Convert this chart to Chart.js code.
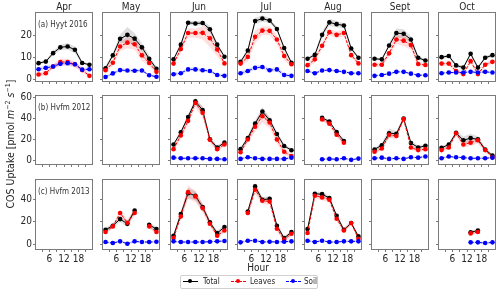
<!DOCTYPE html>
<html>
<head>
<meta charset="utf-8">
<script src="https://cdn.jsdelivr.net/npm/chart.js@4"></script>
<style>
  body { margin: 0; width: 500px; height: 291px; background: #fff; position: relative; overflow: hidden;
         font-family: "DejaVu Sans Condensed", "Liberation Sans Narrow", "DejaVu Sans", sans-serif; color: #262626; }
  canvas { position: absolute; }
  .txt { position: absolute; white-space: nowrap; }
  .legend { position: absolute; left: 180px; top: 275px; width: 136px; height: 12px; border: 1px solid #d0d0d0; border-radius: 2px; }
  .legend span { position: absolute; }
</style>
</head>
<body>
<script>
// hours of the 3-hour bins
const hours = [1.5, 4.5, 7.5, 10.5, 13.5, 16.5, 19.5, 22.5];
const months = ["Apr", "May", "Jun", "Jul", "Aug", "Sept", "Oct"];
const rowLabels = ["(a) Hyyt 2016", "(b) Hvfm 2012", "(c) Hvfm 2013"];
const xTickValues = [3, 6, 9, 12, 15, 18, 21];
const xTickLabels = ["", "6", "", "12", "", "18", ""];
const yTicks = [[0, 10, 20], [0, 20, 40, 60], [0, 20, 40]];
const yRanges = [[-0.5, 30], [-3, 61], [-4.4, 57]];

// (a) Hyyt 2016, one array per month
const hyytTotal = [
  [7.5, 8.2, 12, 14.6, 15, 13.5, 7.6, 6.8],
  [5.2, 11, 18.4, 20.2, 18.5, 14.6, 9.5, 5],
  [9.2, 15.8, 25.6, 25.3, 25.5, 22.7, 15.8, 10.4],
  [8.1, 13.2, 26.4, 27.5, 26.6, 22.8, 14.3, 7.7],
  [9.5, 11.2, 20.2, 25.8, 25, 24.4, 14.1, 9.9],
  [9.5, 9.2, 15.4, 21, 20.7, 18.1, 9.9, 8.7],
  [10.2, 10.7, 6.5, 5.5, 11.7, 5.5, 9.9, 11.1]
];
const hyytLeaves = [
  [2.4, 3, 6, 8, 8, 7, 4.4, 1.8],
  [4.3, 7.7, 15, 16.7, 16, 11, 7.6, 3.6],
  [7.3, 13.8, 21, 21, 21.1, 18.7, 13.6, 7.4],
  [7.3, 10.3, 19.3, 22.1, 22, 18.1, 10.7, 7],
  [6.6, 9.2, 15.3, 21.4, 20.2, 21, 11.1, 7.4],
  [6.8, 6.8, 11.9, 18.1, 17.6, 15.6, 7.1, 6.7],
  [7.3, 7.3, 4, 2.6, 8.4, 2.6, 6.8, 8.1]
];
const hyytSoil = [
  [4.8, 5.4, 6, 7.2, 7.5, 7, 4.6, 4.8],
  [1.3, 2.9, 4.4, 4.2, 4.1, 4.2, 2.1, 1.4],
  [2.5, 3, 4.7, 4.7, 4.3, 4, 2.2, 1.8],
  [3, 4, 5.4, 5.8, 4.3, 4.7, 2.2, 1.8],
  [4, 3, 4.2, 4.4, 4, 3.6, 3, 3],
  [1.8, 2.2, 2.8, 3.6, 3.6, 2.8, 2.1, 2.1],
  [3, 3.3, 3.3, 3.3, 3.6, 3.3, 3.6, 3.3]
];
const hyytTotalSpread = [
  [0.6, 0.6, 1, 1.2, 1.5, 1.5, 0.6, 0.6],
  [1, 1.2, 2, 3.5, 2.5, 2, 1.5, 1],
  [0.6, 1, 1, 1, 1, 1.5, 1, 0.6],
  [0.6, 1, 1.5, 1.5, 1, 1, 1, 0.6],
  [0.6, 1, 1.5, 1.5, 1.5, 1, 1, 0.6],
  [0.6, 0.6, 1, 2, 2, 1.5, 1, 0.6],
  [0.8, 0.8, 0.8, 0.8, 0.8, 0.8, 0.8, 0.8]
];
const hyytLeavesSpread = [
  [1, 1, 1, 1.5, 1.5, 1.5, 1, 1],
  [1, 1.5, 2, 2.5, 2.5, 2.5, 1.5, 1],
  [1, 1.5, 2, 2, 3, 4, 3, 1],
  [1, 2, 3, 2, 2, 2, 2, 1],
  [1, 1.5, 1.5, 1.5, 1.5, 1.5, 1, 1],
  [1, 1, 1.5, 2, 2.5, 2, 1, 1],
  [1, 1, 1, 1, 1, 1, 1, 1]
];
const hyytSoilSpread = [
  [1, 1, 1, 1, 1, 1, 1, 1],
  [0.6, 0.6, 0.8, 0.8, 0.8, 0.8, 0.6, 0.6],
  [0.8, 0.8, 0.8, 0.8, 0.8, 0.8, 0.8, 0.8],
  [1, 1, 1, 1, 1, 1, 1, 1],
  [0.6, 0.6, 0.6, 0.6, 0.6, 0.6, 0.6, 0.6],
  [0.5, 0.5, 0.5, 0.5, 0.5, 0.5, 0.5, 0.5],
  [0.5, 0.5, 0.5, 0.5, 0.5, 0.5, 0.5, 0.5]
];

// (b) Hvfm 2012
const hvfm12Total = [
  null, null,
  [15.3, 26.9, 41.3, 56, 47.7, 20.2, 12.5, 17.1],
  [11, 21.5, 35, 46.4, 38.2, 25.2, 14, 10],
  [null, null, 40.5, 37, 27, 18.7, null, null],
  [10.7, 14.7, 26, 25.4, 39.8, 16.8, 12.5, 14.1],
  [12.2, 15.3, 26.3, 19.3, 21.4, 20.2, 10.7, 4.9]
];
const hvfm12Leaves = [
  null, null,
  [11, 23.9, 37.6, 54.5, 45.3, 19.9, 11, 15.3],
  [8, 20, 32, 42, 36, 20, 8.5, 4.5],
  [null, null, 39, 35, 24.5, 17, null, null],
  [8.6, 11.6, 24.5, 23.3, 39.2, 12.5, 10.1, 11],
  [10.1, 12.5, 26, 15.3, 17.1, 19.3, 10.1, 3.4]
];
const hvfm12Soil = [
  null, null,
  [3, 2.4, 2.4, 2.4, 2.4, 1.8, 1.8, 1.5],
  [1.8, 3.4, 2.4, 1.8, 1.8, 1.8, 1.8, 3],
  [null, null, 1.5, 1.8, 1.5, 2.4, 0.9, 2.1],
  [2.4, 3, 1.8, 2.4, 1.8, 3.4, 3, 4],
  [2.4, 4, 3.4, 3, 2.4, 2.4, 2.4, 3]
];
const hvfm12TotalSpread = [
  null, null,
  [1.5, 2, 2.5, 3, 4, 2, 2, 2],
  [1.5, 2.5, 3, 4, 3, 2.5, 2, 1.5],
  [null, null, 1.5, 1.5, 1.5, 1.5, null, null],
  [1.5, 2, 4.5, 2.5, 1.5, 2.5, 2, 1.5],
  [1.5, 1.5, 2, 3.5, 4, 3, 1.5, 1.5]
];
const hvfm12LeavesSpread = [
  null, null,
  [2, 3, 4, 4, 5, 3, 2.5, 2],
  [2, 3, 5, 6, 5, 4, 3, 2],
  [null, null, 2, 2, 2, 2, null, null],
  [1.5, 2, 3, 3, 2, 2, 2, 1.5],
  [1.5, 2, 2, 3, 3, 3, 2, 1.5]
];
const hvfm12SoilSpread = [
  null, null,
  [1.2, 1.2, 1.2, 1.2, 1.2, 1.2, 1.2, 1.2],
  [1.2, 1.2, 1.2, 1.2, 1.2, 1.2, 1.2, 1.2],
  [null, null, 1, 1, 1, 1, 1, 1],
  [1, 1, 1, 1, 1, 1, 1, 1],
  [1, 1, 1, 1, 1, 1, 1, 1]
];

// (c) Hvfm 2013
const hvfm13Total = [
  null,
  [12.7, 16.3, 22.2, 18, 29.9, null, 17.2, 13.3],
  [7.4, 26.7, 45.3, 43, 32.9, 19.3, 9.8, 15.1],
  [null, 29, 51.3, 39.4, 40.3, 16.3, 5.3, 10.7],
  [13.3, 44.7, 44.4, 40.9, 25.2, 12.7, 18.7, 6.8],
  null,
  [null, null, null, null, 10.4, 12.1, null, null]
];
const hvfm13Leaves = [
  null,
  [10.7, 15.7, 27.6, 19, 27.6, null, 15.7, 10.7],
  [5.3, 24.6, 46.2, 42.4, 32, 18.1, 7.4, 12.1],
  [null, 27.6, 48.3, 38.5, 37.9, 13.6, 3.9, 9.2],
  [9.8, 43, 41.5, 39.4, 22.5, 12.1, 18.7, 4.7],
  null,
  [null, null, null, null, 9.5, 10.7, null, null]
];
const hvfm13Soil = [
  null,
  [1.8, 0.9, 2.4, 0.3, 2.4, 1.8, 1.8, 2.1],
  [2.4, 1.8, 1.8, 1.8, 1.8, 2.1, 2.4, 2.7],
  [1.5, 3, 3, 1.8, 2.1, 1.8, 2.1, 2.4],
  [3, 1.8, 3, 1.8, 1.8, 2.4, 2.4, 2.4],
  null,
  [null, null, null, null, 1.5, 1.5, 0.9, 1.5]
];
const hvfm13TotalSpread = [
  null,
  [2, 2, 2.5, 2.5, 2.5, null, 2, 2],
  [1.5, 2.5, 4.5, 4, 3, 2, 2, 2],
  [null, 2, 3, 2.5, 2.5, 2, 1.5, 1.5],
  [1.5, 2, 2, 2, 2, 1.5, 1.5, 1.5],
  null,
  [null, null, null, null, 1.5, 1.5, null, null]
];
const hvfm13LeavesSpread = [
  null,
  [2, 2, 3, 3, 3, null, 2, 2],
  [2, 3, 6, 5, 4, 3, 2, 2],
  [null, 3, 4, 3, 3, 2.5, 2, 2],
  [2, 2.5, 2.5, 2.5, 2.5, 2, 2, 2],
  null,
  [null, null, null, null, 1.5, 1.5, null, null]
];
const hvfm13SoilSpread = [
  null,
  [1, 1, 1, 1, 1, 1, 1, 1],
  [1, 1, 1, 1, 1, 1, 1, 1],
  [1, 1, 1, 1, 1, 1, 1, 1],
  [1, 1, 1, 1, 1, 1, 1, 1],
  null,
  [null, null, null, null, 1, 1, 1, 1]
];

const rows = [
  { total: hyytTotal, leaves: hyytLeaves, soil: hyytSoil, totalSd: hyytTotalSpread, leavesSd: hyytLeavesSpread, soilSd: hyytSoilSpread },
  { total: hvfm12Total, leaves: hvfm12Leaves, soil: hvfm12Soil, totalSd: hvfm12TotalSpread, leavesSd: hvfm12LeavesSpread, soilSd: hvfm12SoilSpread },
  { total: hvfm13Total, leaves: hvfm13Leaves, soil: hvfm13Soil, totalSd: hvfm13TotalSpread, leavesSd: hvfm13LeavesSpread, soilSd: hvfm13SoilSpread }
];

// panel layout (px)
const colLeft = [36, 103, 171, 238, 305, 372, 439];
const rowTop = [13, 96, 180];
const panelW = 56, panelH = 69;
const padL = 30, padT = 8, padR = 6;
const padB = [6, 6, 20];

Chart.defaults.font.family = '"DejaVu Sans Condensed", "Liberation Sans Narrow", "DejaVu Sans", sans-serif';
Chart.defaults.font.size = 10;
Chart.defaults.color = "#262626";

const framePlugin = {
  id: "frame",
  afterDraw(chart) {
    const a = chart.chartArea, ctx = chart.ctx;
    ctx.save();
    ctx.strokeStyle = "#7a7a7a";
    ctx.lineWidth = 1;
    ctx.strokeRect(a.left - 0.5, a.top - 0.5, a.right - a.left + 1, a.bottom - a.top + 1);
    ctx.restore();
  }
};

function pts(vals) {
  return hours.map((h, i) => ({ x: h, y: vals[i] }));
}
function bound(vals, sd, sign) {
  return hours.map((h, i) => ({ x: h, y: (vals[i] == null || sd[i] == null) ? null : vals[i] + sign * sd[i] }));
}
function series(vals, sd, color, band, dash, order) {
  return [
    { data: bound(vals, sd, -1), borderWidth: 0, pointRadius: 0, fill: false, order: 10 },
    { data: bound(vals, sd, 1), borderWidth: 0, pointRadius: 0, fill: "-1", backgroundColor: band, order: 10 },
    { data: pts(vals), borderColor: color, backgroundColor: color, borderWidth: 1, borderDash: dash,
      pointRadius: 2.3, pointBorderWidth: 0, pointBackgroundColor: color, order: order }
  ];
}

function addText(txt, css) {
  const d = document.createElement("div");
  d.className = "txt";
  d.innerHTML = txt;
  Object.assign(d.style, css);
  document.body.appendChild(d);
  return d;
}

rows.forEach((row, r) => {
  months.forEach((m, c) => {
    const cv = document.createElement("canvas");
    const w = padL + panelW + padR, h = padT + panelH + padB[r];
    cv.width = w; cv.height = h;
    cv.style.left = (colLeft[c] - padL) + "px";
    cv.style.top = (rowTop[r] - padT) + "px";
    document.body.appendChild(cv);

    let datasets = [];
    if (row.total[c]) {
      datasets = datasets.concat(
        series(row.total[c], row.totalSd[c], "#000000", "rgba(0,0,0,0.13)", [], 3),
        series(row.leaves[c], row.leavesSd[c], "#ff0000", "rgba(255,0,0,0.13)", [3, 1.5], 2)
      );
    }
    if (row.soil[c]) {
      datasets = datasets.concat(series(row.soil[c], row.soilSd[c], "#0000ff", "rgba(0,0,255,0.1)", [3, 1.5], 1));
    }

    new Chart(cv, {
      type: "line",
      data: { datasets: datasets },
      options: {
        responsive: false,
        animation: false,
        events: [],
        layout: { padding: { left: 0, top: padT, right: padR, bottom: 0 } },
        plugins: { legend: { display: false }, tooltip: { enabled: false } },
        elements: { line: { tension: 0 } },
        scales: {
          x: {
            type: "linear",
            min: 0.45,
            max: 23.55,
            afterBuildTicks: s => { s.ticks = xTickValues.map(v => ({ value: v })); },
            afterFit: s => { s.height = padB[r]; },
            ticks: {
              padding: 1,
              maxRotation: 0,
              autoSkip: false,
              callback: v => r === 2 ? xTickLabels[xTickValues.indexOf(v)] : ""
            },
            grid: { drawOnChartArea: false, drawTicks: true, tickLength: 3, color: "#7a7a7a" },
            border: { display: false }
          },
          y: {
            min: yRanges[r][0],
            max: yRanges[r][1],
            afterBuildTicks: s => { s.ticks = yTicks[r].map(v => ({ value: v })); },
            afterFit: s => { s.width = padL; },
            ticks: {
              padding: 1,
              autoSkip: false,
              callback: v => c === 0 ? String(v) : ""
            },
            grid: { drawOnChartArea: false, drawTicks: true, tickLength: 3, color: "#7a7a7a" },
            border: { display: false }
          }
        }
      },
      plugins: [framePlugin]
    });
  });
});

// column titles
months.forEach((m, c) => {
  addText(m, { left: (colLeft[c] + panelW / 2) + "px", top: "0px", fontSize: "10px", lineHeight: "13px", transform: "translateX(-50%)" });
});
// row labels
rowLabels.forEach((t, r) => {
  addText(t, { left: "38px", top: (rowTop[r] + 7) + "px", fontSize: "8px", lineHeight: "10px", color: "#333" });
});
// axis titles
addText('COS Uptake [pmol <i>m</i><sup style="font-size:7px">&minus;2</sup> <i>s</i><sup style="font-size:7px">&minus;1</sup>]',
  { left: "9px", top: "144px", fontSize: "10.5px", lineHeight: "12px", transform: "translate(-50%,-50%) rotate(-90deg)" });
addText("Hour", { left: "258px", top: "261px", fontSize: "10px", lineHeight: "13px", transform: "translateX(-50%)" });

// legend
const lg = document.createElement("div");
lg.className = "legend";
lg.innerHTML =
  '<span style="left:2px;top:5px;width:15px;border-top:1px solid #000"></span>' +
  '<span style="left:7px;top:3px;width:4px;height:4px;border-radius:50%;background:#000"></span>' +
  '<span style="left:22px;top:0px;font-size:8px;line-height:11px">Total</span>' +
  '<span style="left:50px;top:5px;width:15px;border-top:1px dashed #f00"></span>' +
  '<span style="left:55px;top:3px;width:4px;height:4px;border-radius:50%;background:#f00"></span>' +
  '<span style="left:69px;top:0px;font-size:8px;line-height:11px">Leaves</span>' +
  '<span style="left:105px;top:5px;width:15px;border-top:1px dashed #00f"></span>' +
  '<span style="left:110px;top:3px;width:4px;height:4px;border-radius:50%;background:#00f"></span>' +
  '<span style="left:123px;top:0px;font-size:8px;line-height:11px">Soil</span>';
document.body.appendChild(lg);
</script>
</body>
</html>
